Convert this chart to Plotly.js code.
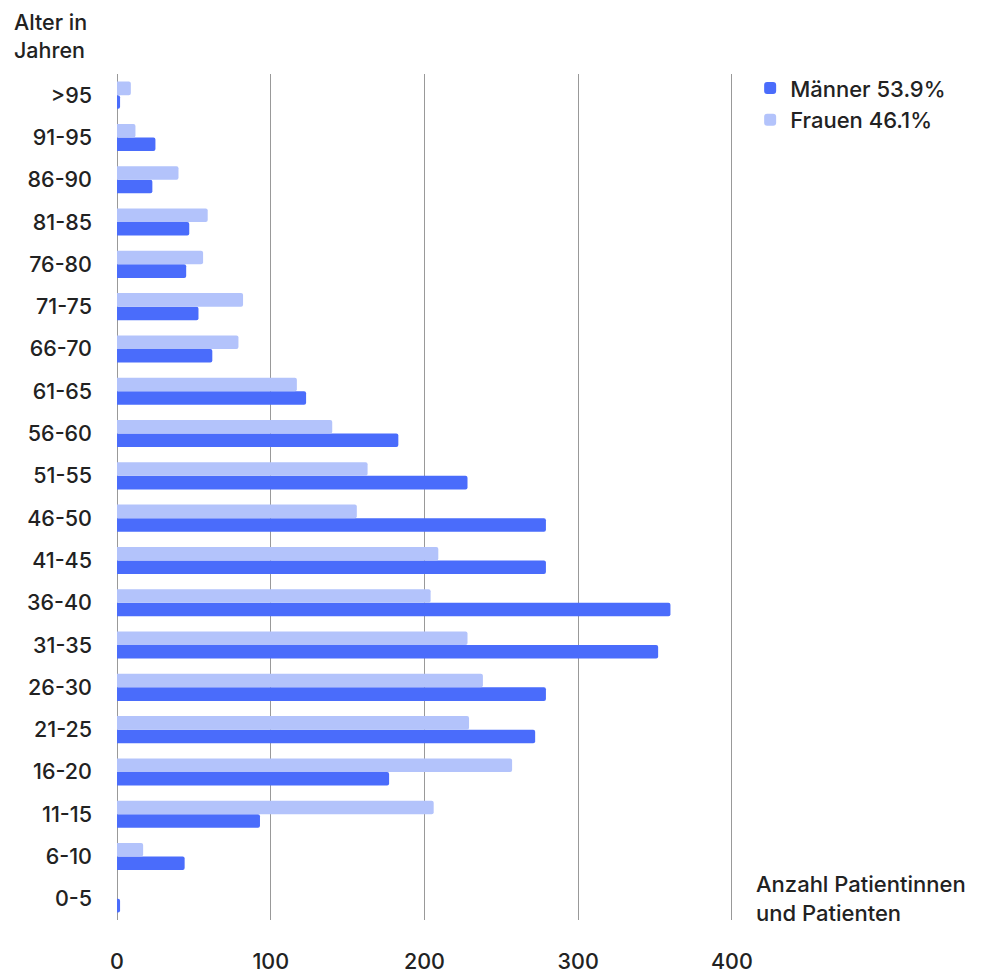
<!DOCTYPE html>
<html>
<head>
<meta charset="utf-8">
<script src="https://cdn.plot.ly/plotly-3.0.1.min.js"></script>
<style>html,body{margin:0;padding:0;background:#fff;}#chart{width:983px;height:975px;}</style>
</head>
<body>
<div id="chart"></div>
<script>
const ageGroups = ["0-5","6-10","11-15","16-20","21-25","26-30","31-35","36-40","41-45","46-50","51-55","56-60","61-65","66-70","71-75","76-80","81-85","86-90","91-95",">95"];
const maenner = [2,44,93,177,272,279,352,360,279,279,228,183,123,62,53,45,47,23,25,2];
const frauen  = [0,17,206,257,229,238,228,204,209,156,163,140,117,79,82,56,59,40,12,9];
const seriesNames = ["Männer 53.9%","Frauen 46.1%"];
const xTicks = [0,100,200,300,400];

const font = "Inter, 'Noto Sans', sans-serif";
const txt = {family:font, size:21.5, color:"#222", weight:500};
const traces = [
  {type:"bar", orientation:"h", name:seriesNames[0], y:ageGroups, x:maenner,
   marker:{color:"#4a6cfb", cornerradius:2}, hoverinfo:"x+y"},
  {type:"bar", orientation:"h", name:seriesNames[1], y:ageGroups, x:frauen,
   marker:{color:"#b3c3fb", cornerradius:2}, hoverinfo:"x+y"}
];
// plot width 630 px for 410 units -> 400 at x=732
const layout = {
  width:983, height:975,
  margin:{l:117, r:236, t:74, b:55},
  paper_bgcolor:"#fff", plot_bgcolor:"#fff",
  font:txt,
  barmode:"group", bargap:0.36, bargroupgap:0,
  showlegend:true,
  legend:{x:1.005, xanchor:"left", y:1.008, yanchor:"top", font:{family:font, size:22, color:"#222", weight:500},
          traceorder:"normal", itemwidth:30, tracegroupgap:0, bgcolor:"rgba(0,0,0,0)"},
  xaxis:{range:[0,409.8], tickvals:xTicks, ticktext:xTicks.map(String),
         showgrid:true, gridcolor:"#999", gridwidth:1,
         zeroline:true, zerolinecolor:"#999", zerolinewidth:1,
         showline:false, ticks:"", ticklabelstandoff:26,
         tickfont:txt, fixedrange:true},
  yaxis:{type:"category", categoryorder:"array", categoryarray:ageGroups,
         showgrid:false, zeroline:false, showline:false, ticks:"",
         ticklabelstandoff:24, tickfont:txt, fixedrange:true},
  annotations:[
    {text:"Alter in<br>Jahren", xref:"paper", yref:"paper", x:-0.167, y:1.079,
     xanchor:"left", yanchor:"top", align:"left", showarrow:false, font:{family:font, size:21.5, color:"#222", weight:500}},
    {text:"Anzahl Patientinnen<br>und Patienten", xref:"paper", yref:"paper", x:1.011, y:0.06,
     xanchor:"left", yanchor:"top", align:"left", showarrow:false, font:{family:font, size:22, color:"#222", weight:500}}
  ]
};
Plotly.newPlot("chart", traces, layout, {displayModeBar:false, staticPlot:true});
</script>
</body>
</html>
